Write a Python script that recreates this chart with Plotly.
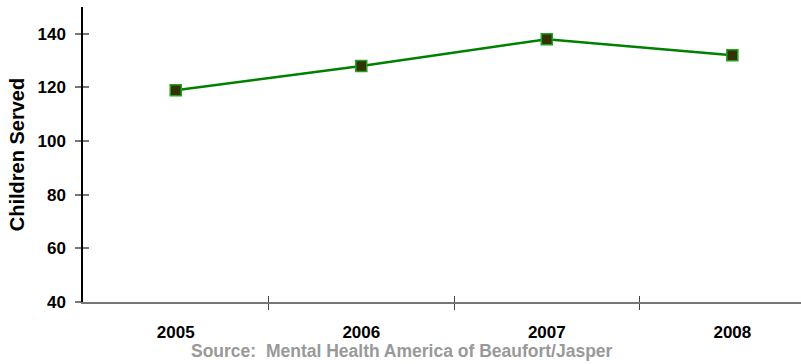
import plotly.graph_objects as go

years = ["2005", "2006", "2007", "2008"]
children_served = [119, 128, 138, 132]
y_ticks = [40, 60, 80, 100, 120, 140]
source_text = "Source:  Mental Health America of Beaufort/Jasper"

xpos = list(range(len(years)))
between = [i + 0.5 for i in range(len(years) - 1)]

fig = go.Figure()
fig.add_trace(go.Scatter(
    x=xpos, y=children_served, mode="lines+markers",
    line=dict(color="#008000", width=2.5),
    marker=dict(symbol="square", size=11, color="#333300",
                line=dict(color="#22a022", width=1.5)),
    showlegend=False, cliponaxis=False,
))
fig.add_trace(go.Scatter(x=xpos, y=children_served, xaxis="x2", yaxis="y2",
                         mode="markers", marker=dict(opacity=0), showlegend=False,
                         hoverinfo="skip"))

fam = "Liberation Sans, Arial"
font = dict(family=fam, size=17, color="#000000")
fig.update_layout(
    width=801, height=364,
    margin=dict(l=83, r=0, t=7, b=62),
    paper_bgcolor="white", plot_bgcolor="white",
    xaxis=dict(range=[-0.5, 3.37], tickvals=xpos, ticktext=[f"<b>{y}</b>" for y in years],
               ticks="", showgrid=False, zeroline=False, showline=True,
               linecolor="#777777", linewidth=2, tickfont=font, ticklabelstandoff=14,
               minor=dict(tickvals=between, ticks="outside", ticklen=6,
                          tickcolor="#444444", tickwidth=1)),
    xaxis2=dict(overlaying="x", matches="x", tickvals=between, ticks="inside",
                ticklen=6, tickcolor="#444444", showticklabels=False,
                showgrid=False, zeroline=False, showline=False),
    yaxis=dict(range=[40, 150], tickvals=y_ticks, ticktext=[f"<b>{v}</b>" for v in y_ticks],
               ticks="outside", ticklen=6, tickcolor="#777777", tickwidth=1.5,
               showgrid=False, zeroline=False, showline=True, linecolor="#000000",
               linewidth=1.5, tickfont=font, ticklabelstandoff=6,
               title=dict(text="<b>Children Served</b>", font=dict(family=fam, size=20, color="#000"), standoff=7)),
    yaxis2=dict(overlaying="y", matches="y", tickvals=y_ticks, ticks="inside",
                ticklen=6, tickcolor="#777777", tickwidth=1.5, showticklabels=False,
                showgrid=False, zeroline=False, showline=False),
)
fig.add_annotation(text=f"<b>{source_text}</b>", xref="paper", yref="paper",
                   x=(402 - 83) / 718, y=0, yshift=-49, xanchor="center", yanchor="middle",
                   showarrow=False, font=dict(family=fam, size=17.5, color="#999999"))
fig.write_html("out.html")
